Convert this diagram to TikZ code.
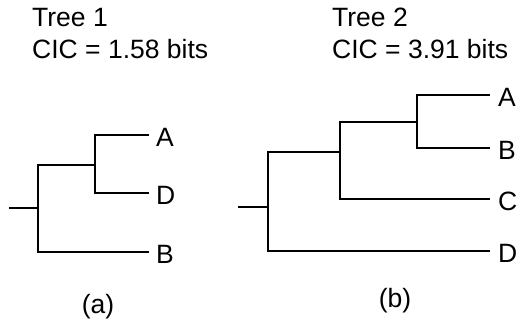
\documentclass[tikz,border=0pt]{standalone}
\usepackage{fontspec}
\setmainfont{Liberation Sans}
\begin{document}
\begin{tikzpicture}[x=1pt,y=-1pt,
  branch/.style={line width=1.5pt},
  lab/.style={font=\fontsize{26.5}{30}\selectfont, inner sep=0pt, anchor=west},
  txt/.style={font=\fontsize{26.5}{30}\selectfont, inner sep=0pt, anchor=base west}]
\useasboundingbox (0,0) rectangle (518,326);
% ---------- Tree 1 ----------
\node[txt] (t1) at (32,27) {Tree 1};
\node[txt] (c1) at (32,59) {CIC = 1.58 bits};
\coordinate (r1) at (9,208);
\coordinate (u1) at (38,208);
\coordinate (v1) at (95,165);
\coordinate (tA1) at (149,135);
\coordinate (tD1) at (149,193);
\coordinate (tB1) at (149,252);
\node[lab] (A1) at ([xshift=7pt,yshift=-2pt]tA1) {A};
\node[lab] (D1) at ([xshift=7pt,yshift=-2pt]tD1) {D};
\node[lab] (B1) at ([xshift=7pt,yshift=-2pt]tB1) {B};
\draw[branch] (r1) -- (u1);
\draw[branch] (u1) |- (v1);
\draw[branch] (u1) |- (tB1);
\draw[branch] (v1) |- (tA1);
\draw[branch] (v1) |- (tD1);
\node[txt, anchor=base] (la) at (98,313) {(a)};
% ---------- Tree 2 ----------
\node[txt] (t2) at (332,27) {Tree 2};
\node[txt] (c2) at (332,59) {CIC = 3.91 bits};
\coordinate (r2) at (238,207);
\coordinate (u2) at (268,207);
\coordinate (v2) at (340,152);
\coordinate (w2) at (417,122);
\coordinate (tA2) at (490,95);
\coordinate (tB2) at (490,148);
\coordinate (tC2) at (490,199);
\coordinate (tD2) at (490,251);
\node[lab] (A2) at ([xshift=8pt,yshift=-2pt]tA2) {A};
\node[lab] (B2) at ([xshift=8pt,yshift=-2pt]tB2) {B};
\node[lab] (C2) at ([xshift=8pt,yshift=-2pt]tC2) {C};
\node[lab] (D2) at ([xshift=8pt,yshift=-2pt]tD2) {D};
\draw[branch] (r2) -- (u2);
\draw[branch] (u2) |- (v2);
\draw[branch] (u2) |- (tD2);
\draw[branch] (v2) |- (w2);
\draw[branch] (v2) |- (tC2);
\draw[branch] (w2) |- (tA2);
\draw[branch] (w2) |- (tB2);
\node[txt, anchor=base] (lb) at (395,307) {(b)};
\end{tikzpicture}
\end{document}
